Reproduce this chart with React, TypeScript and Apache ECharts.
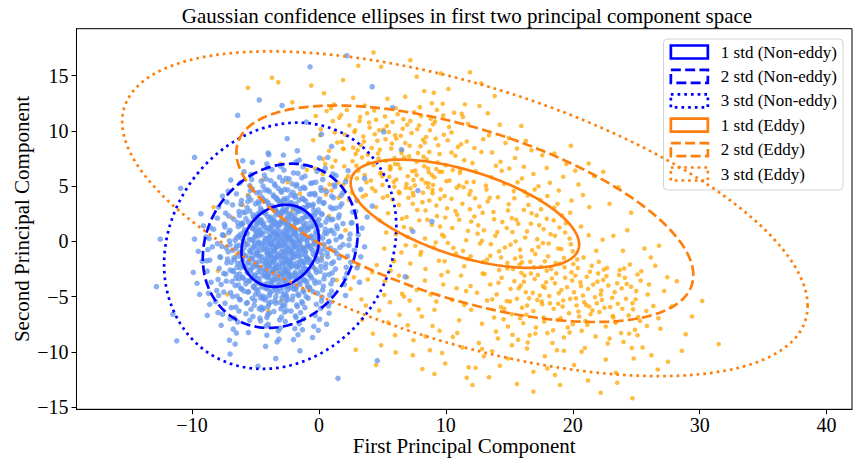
import React, { useEffect, useRef } from "react";
import * as echarts from "echarts";

// ---- data -------------------------------------------------------------

// Non-eddy samples projected on PC1 / PC2
const nonEddyPoints: [number, number][] = [
  [-3.2,-0.4],[-1.1,-0.9],[-5.6,-0.3],[0.4,-0.7],[-2.5,-1.1],[-7.3,-0.6],[-3.9,-0.2],[-0.2,-1.0],[-4.6,-0.8],[-2.0,-0.5],[1.9,-0.3],[-6.2,-1.0],[-3.5,-0.9],[-1.6,-0.2],[-8.4,-0.5],[-2.9,-0.7],[-4.1,-1.1],[0.9,-0.6],[-5.1,-0.4],[-2.2,-0.9],[-3.7,-0.3],[-0.7,-0.4],[-6.8,-0.8],[-1.3,-0.6],[-4.4,-0.2],[2.8,-0.8],[-3.0,-1.0],[-5.3,-0.7],[-0.4,-0.3],[-2.7,-0.2],[-9.5,-0.9],[-3.4,-0.6],[-1.9,-1.1],[-4.8,-0.5],[0.1,-0.9],[-2.4,-0.4],[-7.0,-0.3],[-3.8,-0.8],[-1.0,-0.5],[-5.9,-0.6],[3.6,-0.5],[-2.6,-1.0],[-4.2,-0.7],[-0.9,-0.2],[-3.3,-0.3],[-6.5,-0.4],[-1.5,-0.8],[1.4,-1.1],[-4.9,-0.9],[-2.1,-0.7],[-3.6,-0.5],[-8.0,-0.2],[-0.5,-0.8],[-5.4,-1.0],[-2.8,-0.3],[-1.7,-0.6],
  [-2.8,0.2],[-0.6,0.5],[-5.2,0.1],[1.2,0.7],[-3.9,0.4],[-7.6,0.6],[-2.1,0.0],[-4.5,0.8],[0.3,0.3],[-3.3,0.6],[-1.4,0.1],[-6.1,0.3],[-2.5,0.8],[2.4,0.2],[-4.0,-0.1],[-1.8,0.4],[-5.7,0.7],[-3.0,0.1],[-0.2,0.6],[-8.9,0.4],[-3.6,0.2],[-1.1,0.8],[-4.7,0.5],[-2.3,0.3],[0.8,0.0],[-6.6,0.1],[-3.4,0.7],[-1.6,0.2],[-5.0,0.4],[3.1,0.6],[-2.7,0.5],[-4.3,0.0],[-0.9,0.3],[-7.1,0.8],[-3.8,0.6],[-2.0,0.7],[-5.5,0.2],[-0.4,0.1],[-3.1,0.4],[1.7,0.4],[-4.9,0.6],[-2.4,0.1],[-6.3,0.5],[-1.3,0.5],[-3.5,0.8],[-9.8,0.2],[-2.6,0.6],[-0.1,0.2],[-4.1,0.3],[-1.9,-0.1],[-5.9,0.8],[0.6,0.7],[-3.2,0.0],[-2.2,0.5],
  [-3.4,-1.5],[-1.2,-1.9],[-5.8,-1.3],[0.2,-1.7],[-2.6,-2.1],[-7.2,-1.6],[-4.0,-1.2],[-0.6,-2.0],[-4.7,-1.8],[-2.1,-1.4],[1.6,-1.5],[-6.4,-2.0],[-3.6,-1.9],[-1.7,-1.3],[-8.6,-1.7],[-3.0,-1.6],[-4.3,-2.1],[0.7,-1.4],[-5.3,-1.6],[-2.3,-1.8],[-3.8,-1.3],[-0.9,-1.6],[-6.9,-1.9],[-1.4,-1.2],[-4.5,-1.4],[2.5,-1.9],[-3.1,-2.0],[-5.5,-1.5],[-0.3,-1.3],[-2.8,-1.2],[-9.2,-1.8],[-3.5,-1.7],[-2.0,-2.1],[-4.9,-1.3],[-0.1,-1.8],[-2.5,-1.5],[-7.8,-1.4],[-3.9,-1.8],[-1.0,-1.5],[-6.0,-1.7],[3.3,-1.4],[-2.7,-1.9],[-4.2,-1.6],[-1.1,-1.2],[-3.3,-1.3],[-6.7,-1.5],[-1.5,-1.8],[1.0,-2.0],[-5.0,-1.9],[-2.2,-1.7],[-3.7,-1.5],[-0.8,-1.9],[-5.6,-2.0],[-2.9,-1.4],
  [-2.6,1.2],[-0.3,1.6],[-5.0,1.0],[1.4,1.4],[-3.7,1.8],[-7.4,1.3],[-1.9,0.9],[-4.4,1.5],[0.5,1.1],[-3.1,1.7],[-1.2,1.3],[-6.0,1.6],[-2.3,1.0],[2.6,1.7],[-3.9,1.2],[-1.6,1.8],[-5.4,1.4],[-2.8,0.9],[0.0,1.5],[-8.3,1.1],[-3.4,1.6],[-0.8,1.2],[-4.6,1.8],[-2.0,1.4],[1.0,1.0],[-6.4,1.7],[-3.2,1.3],[-1.4,1.1],[-4.9,1.6],[3.4,1.2],[-2.5,1.5],[-4.1,0.9],[-0.6,1.8],[-7.0,1.0],[-3.6,1.4],[-1.8,1.7],[-5.2,1.2],[-0.1,1.0],[-2.9,1.8],[1.9,1.6],[-4.7,1.1],[-2.2,1.3],[-6.1,1.5],[-1.0,1.6],[-3.3,1.0],[-9.1,1.4],[-2.4,1.7],[-4.3,1.3],
  [-3.5,-2.5],[-1.4,-2.9],[-5.9,-2.3],[0.1,-2.7],[-2.7,-3.1],[-7.0,-2.6],[-4.1,-2.2],[-0.8,-3.0],[-4.8,-2.8],[-2.3,-2.4],[1.3,-2.5],[-6.5,-3.0],[-3.7,-2.9],[-1.8,-2.3],[-8.8,-2.7],[-3.1,-2.6],[-4.4,-3.1],[0.5,-2.4],[-5.4,-2.6],[-2.4,-2.8],[-3.9,-2.3],[-1.0,-2.6],[-7.5,-2.9],[-1.6,-2.2],[-4.6,-2.4],[2.2,-2.9],[-3.2,-3.0],[-5.7,-2.5],[-0.5,-2.3],[-2.9,-2.2],[-9.9,-2.8],[-3.6,-2.7],[-2.1,-3.1],[-5.1,-2.3],[-0.2,-2.8],[-2.6,-2.5],[-6.2,-2.4],[-4.0,-2.8],[-1.2,-2.5],[-6.8,-2.7],[3.0,-2.4],[-2.8,-2.9],[-4.3,-2.6],[-1.3,-2.2],[-3.4,-2.3],[-5.3,-3.0],[-1.9,-2.8],[0.8,-3.0],
  [-2.5,2.2],[-0.2,2.6],[-4.8,2.0],[1.6,2.4],[-3.5,2.8],[-7.1,2.3],[-1.7,1.9],[-4.2,2.5],[0.7,2.1],[-2.9,2.7],[-1.0,2.3],[-5.8,2.6],[-2.1,2.0],[2.9,2.7],[-3.8,2.2],[-1.4,2.8],[-5.2,2.4],[-2.7,1.9],[0.2,2.5],[-8.0,2.1],[-3.2,2.6],[-0.6,2.2],[-4.5,2.8],[-1.9,2.4],[1.1,2.0],[-6.3,2.7],[-3.0,2.3],[-1.2,2.1],[-4.7,2.6],[3.8,2.2],[-2.3,2.5],[-3.9,1.9],[-0.4,2.8],[-6.7,2.0],[-3.4,2.4],[-1.6,2.7],[-5.0,2.2],[0.0,2.0],[-2.6,2.8],[-9.3,2.5],
  [-3.6,-3.5],[-1.5,-3.9],[-6.0,-3.3],[0.0,-3.7],[-2.8,-4.1],[-7.3,-3.6],[-4.2,-3.2],[-0.9,-4.0],[-4.9,-3.8],[-2.4,-3.4],[1.1,-3.5],[-6.6,-4.0],[-3.8,-3.9],[-1.9,-3.3],[-8.5,-3.7],[-3.2,-3.6],[-4.5,-4.1],[0.4,-3.4],[-5.5,-3.6],[-2.5,-3.8],[-4.0,-3.3],[-1.1,-3.6],[-7.7,-3.9],[-1.7,-3.2],[-4.7,-3.4],[2.0,-3.9],[-3.3,-4.0],[-5.8,-3.5],[-0.6,-3.3],[-3.0,-3.2],[-9.6,-3.8],[-3.7,-3.7],[-2.2,-4.1],[-5.2,-3.3],[-0.3,-3.8],[-2.7,-3.5],[-6.3,-3.4],[-4.1,-3.8],[-1.3,-3.5],[3.2,-3.7],
  [-2.4,3.2],[0.0,3.6],[-4.6,3.0],[1.8,3.4],[-3.3,3.8],[-6.8,3.3],[-1.5,2.9],[-4.0,3.5],[0.9,3.1],[-2.8,3.7],[-0.8,3.3],[-5.6,3.6],[-2.0,3.0],[3.0,3.7],[-3.7,3.2],[-1.2,3.8],[-5.0,3.4],[-2.6,2.9],[0.4,3.5],[-7.9,3.1],[-3.1,3.6],[-0.5,3.2],[-4.4,3.8],[-1.8,3.4],[1.3,3.0],[-6.1,3.7],[-2.9,3.3],[-1.0,3.1],[-4.8,3.6],[4.2,3.2],[-2.2,3.5],
  [-3.7,-4.5],[-1.6,-4.9],[-6.1,-4.3],[-0.1,-4.7],[-2.9,-5.1],[-7.5,-4.6],[-4.3,-4.2],[-1.0,-5.0],[-5.0,-4.8],[-2.5,-4.4],[1.0,-4.5],[-6.8,-5.0],[-3.9,-4.9],[-2.0,-4.3],[-8.7,-4.7],[-3.3,-4.6],[-4.6,-5.1],[0.3,-4.4],[-5.6,-4.6],[-2.6,-4.8],[-4.1,-4.3],[-1.2,-4.6],[-7.9,-4.9],[-1.8,-4.2],[-4.8,-4.4],[2.1,-4.9],[-3.4,-5.0],[-5.9,-4.5],[-0.7,-4.3],[-3.1,-4.2],[-9.4,-4.8],
  [-2.2,4.2],[0.2,4.6],[-4.5,4.0],[1.9,4.4],[-3.2,4.8],[-6.5,4.3],[-1.3,3.9],[-3.9,4.5],[1.0,4.1],[-2.7,4.7],[-0.6,4.3],[-5.4,4.6],[-1.9,4.0],[3.3,4.7],[-3.6,4.2],[-1.1,4.8],[-4.9,4.4],[-2.5,3.9],[0.6,4.5],[-7.6,4.1],[-3.0,4.6],[-0.3,4.2],
  [-3.8,-5.5],[-1.7,-5.9],[-6.2,-5.3],[-0.2,-5.7],[-3.0,-6.1],[-7.4,-5.6],[-4.4,-5.2],[-1.1,-6.0],[-5.1,-5.8],[-2.6,-5.4],[0.9,-5.5],[-6.9,-6.0],[-4.0,-5.9],[-2.1,-5.3],[-8.6,-5.7],[-3.4,-5.6],[-4.7,-6.1],[0.2,-5.4],[-5.7,-5.6],[-2.7,-5.8],[-4.2,-5.3],[-1.3,-5.6],
  [-2.1,5.2],[0.3,5.6],[-4.4,5.0],[2.1,5.4],[-3.1,5.8],[-6.2,5.3],[-1.2,4.9],[-3.8,5.5],[1.2,5.1],[-2.6,5.7],[-0.5,5.3],[-5.3,5.6],[-1.8,5.0],[3.6,5.7],[-3.5,5.2],
  [-3.9,-6.5],[-1.8,-6.9],[-6.3,-6.3],[-0.3,-6.7],[-3.1,-7.1],[-7.6,-6.6],[-4.5,-6.2],[-1.2,-7.0],[-5.2,-6.8],[-2.7,-6.4],[0.8,-6.5],[-7.0,-7.0],[-4.1,-6.9],[-2.2,-6.3],[-8.8,-6.7],
  [-2.0,6.2],[0.5,6.6],[-4.3,6.0],[2.3,6.4],[-3.0,6.8],[-5.9,6.3],[-1.1,5.9],[-3.7,6.5],[1.1,6.1],
  [-4.0,-7.5],[-1.9,-7.9],[-6.4,-7.3],[-0.4,-7.7],[-3.2,-8.1],[-7.7,-7.6],[-4.6,-7.2],[-1.3,-8.0],[0.6,-7.5],
  [-1.8,7.2],[0.7,7.6],[-4.1,7.0],[-2.8,7.8],[-6.0,7.3],
  [-4.1,-8.5],[-2.0,-8.9],[-6.5,-8.3],[-0.5,-8.7],[-3.3,-9.1],
  [-1.7,8.2],[1.0,8.6],[-4.0,8.0],[-4.2,-9.5],[-1.5,-9.9],[-6.6,-9.3],
  [-2.5,9.3],[0.2,9.7],[-3.4,-10.6],[-7.0,-10.2],[-1.0,10.8],[-4.8,-11.3],
  [-12.5,0.2],[-11.2,-9.0],[-12.8,-4.1],[2.2,16.8],[-0.7,15.8],[-4.7,12.8],[-2.9,12.3],[-6.4,11.4],[4.2,14.0],[5.8,12.1],[6.5,8.3],[7.8,4.6],[5.1,9.9],[8.9,1.8],[4.6,-10.8],[1.5,-12.4],[-9.8,7.6],[-10.9,4.8],[-11.5,-6.6],[6.8,-3.2],[7.4,0.9],
  [-2.35,-0.85],[-4.75,-0.15],[-0.85,-0.45],[-6.05,-0.95],[-3.45,-0.65],[-1.95,-0.25],[0.65,-1.05],[-5.15,-0.55],[-2.95,-0.35],[-4.05,-0.95],[-1.25,-0.75],[-7.65,-0.45],[-3.85,-1.05],[-0.35,-0.15],[-5.75,-0.25],[-2.55,-0.55],[1.25,-0.85],[-4.55,-0.35],[-1.65,-0.95],[-3.15,-0.15],[-6.55,-0.65],[-2.15,-1.0],[-0.05,-0.55],[-4.35,-0.75],[-3.65,-0.25],[-1.45,-0.35],[-5.45,-0.85],[2.35,-0.35],[-2.75,-0.95],[-8.75,-0.75],[-3.25,-0.45],[-0.65,-0.65],[-4.85,-1.05],[-2.05,-0.15],[-6.25,-0.35],[-1.05,-0.95],[-3.95,-0.55],[0.35,-0.25],[-5.05,-0.15],[-2.45,-0.65],[-7.15,-0.95],[-1.85,-0.45],[-3.55,-0.85],[1.65,-0.55],[-4.25,-0.45],
  [-2.25,0.15],[-4.65,0.65],[-0.75,0.35],[-5.95,0.05],[-3.35,0.45],[-1.85,0.75],[0.75,-0.05],[-5.05,0.45],[-2.85,0.65],[-3.95,0.05],[-1.15,0.25],[-7.55,0.55],[-3.75,-0.05],[-0.25,0.85],[-5.65,0.75],[-2.45,0.45],[1.35,0.15],[-4.45,0.65],[-1.55,0.05],[-3.05,0.85],[-6.45,0.35],[-2.05,0.0],[0.05,0.45],[-4.25,0.25],[-3.55,0.75],[-1.35,0.65],[-5.35,0.15],[2.45,0.65],[-2.65,0.05],[-8.65,0.25],[-3.15,0.55],[-0.55,0.35],[-4.75,-0.05],[-1.95,0.85],[-6.15,0.65],[-0.95,0.05],[-3.85,0.45],[0.45,0.75],[-4.95,0.85],[-2.35,0.35],[-7.05,0.05],[-1.75,0.55],[-3.45,0.15],[1.75,0.45],
  [-2.45,-1.85],[-4.85,-1.15],[-0.95,-1.45],[-6.15,-1.95],[-3.55,-1.65],[-2.05,-1.25],[0.55,-2.05],[-5.25,-1.55],[-3.05,-1.35],[-4.15,-1.95],[-1.35,-1.75],[-7.75,-1.45],[-3.95,-2.05],[-0.45,-1.15],[-5.85,-1.25],[-2.65,-1.55],[1.15,-1.85],[-4.65,-1.35],[-1.75,-1.95],[-3.25,-1.15],[-6.65,-1.65],[-2.25,-2.0],[-0.15,-1.55],[-4.45,-1.75],[-3.75,-1.25],[-1.55,-1.35],[-5.55,-1.85],[2.25,-1.35],[-2.85,-1.95],[-8.85,-1.75],[-3.35,-1.45],[-0.75,-1.65],[-4.95,-2.05],[-2.15,-1.15],[-6.35,-1.35],[-1.15,-1.95],[-4.05,-1.55],[0.25,-1.25],[-5.15,-1.15],[-2.55,-1.65],[-7.25,-1.95],[-1.95,-1.45],[-3.65,-1.85],
  [-2.15,1.15],[-4.55,1.65],[-0.65,1.35],[-5.85,1.05],[-3.25,1.45],[-1.75,1.75],[0.85,0.95],[-4.95,1.45],[-2.75,1.65],[-3.85,1.05],[-1.05,1.25],[-7.45,1.55],[-3.65,0.95],[-0.15,1.85],[-5.55,1.75],[-2.35,1.45],[1.45,1.15],[-4.35,1.65],[-1.45,1.05],[-2.95,1.85],[-6.35,1.35],[-1.95,1.0],[0.15,1.45],[-4.15,1.25],[-3.45,1.75],[-1.25,1.65],[-5.25,1.15],[2.55,1.65],[-2.55,1.05],[-8.55,1.25],[-3.05,1.55],[-0.45,1.35],[-4.65,0.95],[-1.85,1.85],[-6.05,1.65],[-0.85,1.05],[-3.75,1.45],[0.55,1.75],[-4.85,1.85],[-2.25,1.35],
  [-2.55,-2.85],[-4.95,-2.15],[-1.05,-2.45],[-6.25,-2.95],[-3.65,-2.65],[-2.15,-2.25],[0.45,-3.05],[-5.35,-2.55],[-3.15,-2.35],[-4.25,-2.95],[-1.45,-2.75],[-7.85,-2.45],[-4.05,-3.05],[-0.55,-2.15],[-5.95,-2.25],[-2.75,-2.55],[1.05,-2.85],[-4.75,-2.35],[-1.85,-2.95],[-3.35,-2.15],[-6.75,-2.65],[-2.35,-3.0],[-0.25,-2.55],[-4.55,-2.75],[-3.85,-2.25],[-1.65,-2.35],[-5.65,-2.85],[2.15,-2.35],[-2.95,-2.95],[-3.45,-2.45],[-0.85,-2.65],[-5.05,-3.05],[-2.25,-2.15],[-6.45,-2.35],[-1.25,-2.95],[-4.15,-2.55],[0.15,-2.25],[-5.25,-2.15],[-2.65,-2.65],[-7.35,-2.95],
  [-2.05,2.15],[-4.45,2.65],[-0.55,2.35],[-5.75,2.05],[-3.15,2.45],[-1.65,2.75],[0.95,1.95],[-4.85,2.45],[-2.65,2.65],[-3.75,2.05],[-0.95,2.25],[-7.35,2.55],[-3.55,1.95],[-0.05,2.85],[-5.45,2.75],[-2.25,2.45],[1.55,2.15],[-4.25,2.65],[-1.35,2.05],[-2.85,2.85],[-6.25,2.35],[-1.85,2.0],[0.25,2.45],[-4.05,2.25],[-3.35,2.75],[-1.15,2.65],[-5.15,2.15],[2.65,2.65],[-2.45,2.05],[-2.95,2.55],[-0.35,2.35],[-4.55,1.95],[-1.75,2.85],[-5.95,2.65],
  [-2.65,-3.85],[-5.05,-3.15],[-1.15,-3.45],[-6.35,-3.95],[-3.75,-3.65],[-2.25,-3.25],[0.35,-4.05],[-5.45,-3.55],[-3.25,-3.35],[-4.35,-3.95],[-1.55,-3.75],[-7.95,-3.45],[-4.15,-4.05],[-0.65,-3.15],[-6.05,-3.25],[-2.85,-3.55],[0.95,-3.85],[-4.85,-3.35],[-1.95,-3.95],[-3.45,-3.15],[-6.85,-3.65],[-2.45,-4.0],[-0.35,-3.55],[-4.65,-3.75],[-3.95,-3.25],[-1.75,-3.35],[-5.75,-3.85],[2.05,-3.35],[-3.05,-3.95],[-3.55,-3.45],[-0.95,-3.65],[-5.15,-4.05],[-2.35,-3.15],[-6.55,-3.35],
  [-1.95,3.15],[-4.35,3.65],[-0.45,3.35],[-5.65,3.05],[-3.05,3.45],[-1.55,3.75],[1.05,2.95],[-4.75,3.45],[-2.55,3.65],[-3.65,3.05],[-0.85,3.25],[-7.25,3.55],[-3.45,2.95],[0.05,3.85],[-5.35,3.75],[-2.15,3.45],[1.65,3.15],[-4.15,3.65],[-1.25,3.05],[-2.75,3.85],[-6.15,3.35],[-1.75,3.0],[0.35,3.45],[-3.95,3.25],[-3.25,3.75],[-1.05,3.65],
  [-2.75,-4.85],[-5.15,-4.15],[-1.25,-4.45],[-6.45,-4.95],[-3.85,-4.65],[-2.35,-4.25],[0.25,-5.05],[-5.55,-4.55],[-3.35,-4.35],[-4.45,-4.95],[-1.65,-4.75],[-8.05,-4.45],[-4.25,-5.05],[-0.75,-4.15],[-6.15,-4.25],[-2.95,-4.55],[0.85,-4.85],[-4.95,-4.35],[-2.05,-4.95],[-3.55,-4.15],[-6.95,-4.65],[-2.55,-5.0],[-0.45,-4.55],[-4.75,-4.75],[-4.05,-4.25],[-1.85,-4.35],
  [-1.85,4.15],[-4.25,4.65],[-0.35,4.35],[-5.55,4.05],[-2.95,4.45],[-1.45,4.75],[1.15,3.95],[-4.65,4.45],[-2.45,4.65],[-3.55,4.05],[-0.75,4.25],[-7.15,4.55],[-3.35,3.95],[0.15,4.85],[-5.25,4.75],[-2.05,4.45],[1.75,4.15],[-4.05,4.65],
  [-2.85,-5.85],[-5.25,-5.15],[-1.35,-5.45],[-6.55,-5.95],[-3.95,-5.65],[-2.45,-5.25],[0.15,-6.05],[-5.65,-5.55],[-3.45,-5.35],[-4.55,-5.95],[-1.75,-5.75],[-8.15,-5.45],[-4.35,-6.05],[-0.85,-5.15],[-6.25,-5.25],[-3.05,-5.55],[0.75,-5.85],[-5.05,-5.35],
  [-1.75,5.15],[-4.15,5.65],[-0.25,5.35],[-5.45,5.05],[-2.85,5.45],[-1.35,5.75],[1.25,4.95],[-4.55,5.45],[-2.35,5.65],[-3.45,5.05],[-0.65,5.25],[-6.95,5.55],
  [-2.95,-6.85],[-5.35,-6.15],[-1.45,-6.45],[-6.65,-6.95],[-4.05,-6.65],[-2.55,-6.25],[0.05,-7.05],[-5.75,-6.55],[-3.55,-6.35],[-4.65,-6.95],[-1.85,-6.75],[-7.95,-6.45],
  [-1.65,6.15],[-4.05,6.65],[-0.15,6.35],[-5.35,6.05],[-2.75,6.45],[-1.25,6.75],[1.35,5.95],
  [-3.05,-7.85],[-5.45,-7.15],[-1.55,-7.45],[-6.75,-7.95],[-4.15,-7.65],[-2.65,-7.25],[-0.05,-8.05],
  [-1.55,7.35],[-3.95,7.85],[0.05,7.55],[-5.25,7.15],[-3.15,-8.85],[-5.55,-8.25],[-1.65,-8.45],[-7.05,-8.95],
];

// Eddy samples projected on PC1 / PC2
const eddyPoints: [number, number][] = [
  [0.8,8.2],[2.4,10.5],[3.1,6.4],[4.6,9.1],[5.2,11.3],[6.0,7.0],[7.3,9.8],[8.1,5.6],[9.4,8.7],[1.5,5.3],[2.9,7.9],[3.8,11.6],[4.2,4.8],[5.7,8.4],[6.6,10.2],[7.0,5.9],[8.5,7.4],[9.0,10.6],[1.1,10.9],[2.0,6.8],[3.5,9.5],[4.9,6.2],[5.5,9.9],[6.3,4.5],[7.8,8.0],[8.8,11.1],[9.7,6.3],[0.3,6.1],[1.8,9.0],[2.6,4.4],[3.3,8.7],[4.0,10.3],[4.7,7.5],[5.9,5.4],[6.8,8.9],[7.5,11.7],[8.3,6.8],[9.2,9.3],[0.6,11.8],[1.3,7.3],[2.2,11.9],[3.0,5.7],[3.9,7.1],[4.4,9.7],[5.0,5.1],[5.8,10.8],[6.4,6.6],[7.1,7.7],[7.9,10.5],[8.6,4.9],[9.5,7.9],[1.0,4.6],[2.7,8.5],[3.6,6.0],[4.5,11.0],[5.3,7.3],[6.1,9.3],[6.9,5.2],[7.6,6.4],[8.2,9.2],[9.8,11.4],[0.1,9.6],[1.6,11.2],[2.3,5.9],[3.2,10.9],[4.1,5.5],[4.8,8.3],[5.6,6.5],[6.2,11.5],[6.7,7.6],[7.4,4.4],[8.0,8.6],[8.9,6.0],[9.6,4.7],[1.9,8.4],[2.8,9.9],[3.7,4.2],[5.1,10.1],[6.5,8.0],[7.2,10.9],[8.4,5.3],[9.1,5.8],[0.5,7.0],[4.3,6.9],[5.4,4.1],[6.0,9.6],[7.7,7.2],[8.7,8.1],[9.3,11.9],[3.4,7.6],
  [-2.1,12.6],[0.4,13.4],[1.9,14.6],[3.6,12.3],[4.9,15.8],[4.3,17.1],[6.8,13.1],[7.7,14.9],[8.9,12.5],[10.2,13.8],[11.5,12.4],[12.8,14.3],[2.7,13.0],[5.4,12.9],[7.2,16.4],[9.6,15.2],[3.1,15.9],[-0.6,14.1],[8.3,13.6],[11.9,15.3],[13.3,11.6],[-3.7,14.8],[-5.6,13.9],[-3.2,14.4],[1.2,12.4],
  [4.5,3.1],[5.3,0.8],[6.1,5.6],[6.9,2.2],[7.6,-0.4],[8.2,4.4],[8.9,1.5],[9.5,6.3],[10.1,3.0],[10.8,-1.1],[11.4,4.9],[12.0,1.8],[12.7,-0.2],[13.3,3.6],[13.9,0.5],[14.6,5.2],[15.2,2.1],[15.9,-1.4],[16.5,3.3],[17.2,0.2],[17.8,-1.8],[18.5,1.9],[19.1,-0.7],[19.8,2.6],[5.0,5.9],[5.8,3.8],[6.5,-1.0],[7.2,4.8],[7.9,1.9],[8.6,6.6],[9.2,-0.1],[9.9,4.1],[10.5,1.2],[11.1,6.2],[11.7,-1.6],[12.3,3.9],[13.0,1.0],[13.6,5.8],[14.2,-0.9],[14.9,2.8],[15.5,0.0],[16.2,4.5],[16.8,-0.8],[17.5,2.9],[18.1,-0.2],[18.8,3.4],[19.4,0.8],[4.8,1.9],[5.6,6.8],[6.3,3.3],[7.0,0.4],[7.7,6.0],[8.4,2.8],[9.0,5.1],[9.7,0.6],[10.3,5.5],[10.9,2.4],[11.6,0.1],[12.2,5.4],[12.9,2.6],[13.5,-1.3],[14.1,4.0],[14.8,1.2],[15.4,3.9],[16.0,-1.9],[16.7,1.6],[17.3,-0.5],[18.0,4.1],[18.6,0.5],[19.3,-1.5],[6.7,1.3],[7.4,3.4],[8.0,-1.2],[8.7,3.7],[9.3,2.3],[10.0,6.9],[10.6,-0.6],[11.3,3.4],[11.9,2.9],[12.5,0.7],[13.2,4.7],[13.8,2.0],[14.4,6.4],[15.1,-0.3],[15.7,1.6],[16.4,0.9],[17.0,4.7],[17.7,1.1],[20.0,-0.9],[5.9,-1.8],
  [14.3,7.2],[15.6,8.4],[16.9,6.1],[18.2,5.3],[19.5,7.0],[20.8,4.2],[21.7,5.9],[22.9,3.4],[15.0,6.6],[16.3,9.1],[17.6,7.8],[18.9,4.6],[20.2,6.4],[21.3,3.1],[23.6,4.9],[14.7,8.9],[16.0,5.7],[17.3,5.0],[19.9,3.7],[22.4,6.3],[12.8,8.1],[13.4,9.6],[11.2,8.8],[12.1,7.1],[24.6,2.6],
  [14.2,-2.6],[15.1,-4.3],[15.8,-2.1],[16.4,-5.8],[17.0,-3.4],[17.7,-6.9],[18.3,-2.5],[18.9,-4.7],[19.6,-7.8],[20.2,-3.1],[20.9,-5.5],[21.5,-2.2],[22.1,-6.4],[22.8,-4.0],[23.4,-7.3],[24.1,-3.3],[24.7,-5.6],[25.4,-2.7],[14.6,-6.1],[15.4,-3.6],[16.1,-7.4],[16.7,-2.9],[17.4,-4.9],[18.0,-8.3],[18.6,-3.8],[19.2,-5.9],[19.9,-2.8],[20.5,-6.8],[21.2,-4.3],[21.8,-8.6],[22.4,-3.5],[23.1,-5.1],[23.7,-2.6],[24.4,-6.7],[25.0,-4.5],[14.0,-4.8],[14.9,-7.7],[15.6,-5.2],[16.2,-3.1],[16.9,-6.3],[17.5,-2.3],[18.2,-5.6],[18.8,-7.1],[19.4,-3.3],[20.1,-4.6],[20.7,-8.1],[21.3,-5.9],[22.0,-2.9],[22.6,-7.7],[23.3,-4.6],[23.9,-6.1],[24.5,-2.1],[25.3,-7.2],[14.4,-3.3],[15.2,-6.6],[15.9,-4.0],[16.6,-8.5],[17.2,-5.3],[17.9,-3.7],[18.5,-6.1],[19.0,-2.0],[19.7,-6.5],[20.4,-2.4],[21.0,-7.2],[21.6,-3.9],[22.3,-5.3],[22.9,-8.8],[23.5,-3.8],[24.2,-5.2],[24.9,-8.0],[14.8,-5.4],[15.7,-8.9],[16.3,-4.6],[17.1,-7.8],[17.8,-4.2],[18.4,-9.2],[19.1,-4.4],[19.8,-5.2],[20.6,-3.7],[21.4,-6.6],[22.2,-4.8],[22.7,-2.4],[23.2,-6.9],[23.8,-8.3],[24.6,-4.1],[26.0,-3.9],[16.0,-6.0],[17.6,-5.7],[19.3,-8.7],[20.0,-7.5],[20.8,-4.9],[21.9,-5.6],[18.7,-2.9],[20.3,-5.8],[21.1,-3.2],[15.3,-2.5],[22.5,-6.0],[13.8,-6.9],[13.5,-3.9],[24.0,-9.1],
  [8.4,-8.6],[9.7,-10.1],[10.9,-8.3],[11.8,-11.4],[12.6,-9.2],[13.4,-12.3],[14.1,-8.8],[14.9,-10.6],[15.6,-12.9],[16.4,-9.7],[16.9,-11.8],[16.9,-13.6],[17.8,-10.4],[18.6,-12.1],[19.3,-9.9],[20.1,-11.2],[21.2,-12.6],[22.2,-13.7],[22.6,-10.7],[23.4,-11.9],[23.5,-12.8],[24.7,-14.2],[11.3,-9.6],[13.0,-10.4],[15.2,-9.4],[18.0,-11.5],[20.7,-10.0],[9.1,-12.0],[12.1,-13.0],[19.0,-13.0],
  [26.5,-2.2],[27.2,-4.5],[28.9,-8.4],[31.5,-9.3],[25.8,-6.3],[26.9,-7.9],[27.8,-5.9],[25.5,-9.6],[28.2,-3.6],[26.2,-10.3],[29.4,-6.8],[25.1,-8.5],[27.5,-10.9],[24.8,-10.6],[30.2,-5.4],[25.9,-4.8],[23.2,0.5],[24.3,1.0],[26.8,-0.4],[28.6,-9.9],[25.1,-3.0],[26.7,-11.6],
  [2.5,-4.3],[3.4,-7.1],[4.2,-2.8],[4.9,-9.4],[5.6,-5.5],[6.3,-3.1],[7.0,-7.6],[7.7,-4.4],[8.4,-2.5],[9.1,-6.2],[9.8,-3.9],[2.9,-9.8],[3.7,-5.8],[4.5,-11.2],[5.2,-3.6],[6.0,-8.5],[6.7,-5.0],[7.4,-10.3],[8.1,-6.8],[8.8,-4.8],[9.5,-8.1],[3.1,-2.2],[5.9,-1.7],[7.2,-2.0],[9.9,-1.8],[10.5,-5.3],[11.2,-3.1],[12.0,-6.2],[11.6,-4.5],[12.9,-2.9],
  [-8.3,3.1],[-6.5,-1.2],[-4.4,5.6],[-2.6,0.4],[-0.9,-4.2],[0.8,2.3],[-7.2,-4.8],[-5.1,1.9],[-3.3,-2.7],[-1.5,4.3],[0.2,-1.5],[1.9,5.1],[-7.4,0.5],[-6.0,3.3],[-4.0,-6.3],[-2.1,2.8],[-0.3,6.6],[1.4,-3.5],[-5.6,4.2],[-3.0,7.0],[-1.2,-0.6],[0.5,4.7],[2.1,1.0],[-4.7,-2.3],
  [0.35,7.45],[1.25,9.85],[2.15,5.65],[3.05,8.25],[3.95,10.75],[4.85,6.15],[5.75,8.85],[6.65,11.05],[7.55,5.05],[8.45,9.45],[9.35,7.15],[10.25,10.35],[11.15,6.45],[0.85,5.15],[1.75,11.45],[2.65,7.25],[3.55,9.05],[4.45,4.55],[5.35,10.45],[6.25,6.95],[7.15,8.65],[8.05,11.35],[8.95,4.65],[9.85,9.65],[10.75,7.75],[11.65,9.05],[0.15,10.15],[1.05,6.75],[1.95,8.35],[2.85,10.05],[3.75,5.35],[4.65,7.95],[5.55,5.85],[6.45,9.55],[7.35,6.35],[8.25,7.65],[9.15,10.85],[10.05,5.45],[10.95,8.55],[11.85,4.25],[0.55,4.25],[1.45,8.95],[2.35,3.75],[3.25,11.25],[4.15,8.45],[5.05,3.95],[5.95,7.55],[6.85,4.85],[7.75,10.15],[8.65,6.25],[9.55,3.85],[10.45,8.05],[11.35,11.25],[-0.45,9.15],[-0.95,6.45],[-0.25,11.35],[0.95,12.05],[2.05,9.65],[2.95,6.85],[3.85,7.85],[4.75,10.05],[5.65,6.65],[6.55,8.25],[7.45,4.15],[8.35,8.95],[9.25,6.55],[10.15,9.15],[11.05,5.05],[4.35,11.85],[6.05,12.05],[7.95,12.15],[9.75,12.45],[1.55,3.95],[3.45,4.05],[5.25,9.25],[6.95,10.55],[8.75,10.05],[10.65,11.65],[11.45,7.35],[12.25,8.45],
  [5.45,2.55],[6.35,4.35],[7.25,1.15],[8.15,3.55],[9.05,-0.55],[9.95,2.15],[10.85,4.85],[11.75,0.95],[12.65,3.15],[13.55,-0.25],[14.45,1.75],[15.35,4.55],[16.25,0.35],[17.15,2.35],[18.05,-1.35],[18.95,1.25],[19.85,-0.25],[5.95,4.95],[6.85,-0.35],[7.75,2.85],[8.65,5.25],[9.55,1.35],[10.45,3.85],[11.35,-0.85],[12.25,2.25],[13.15,5.05],[14.05,0.85],[14.95,3.35],[15.85,-0.75],[16.75,2.55],[17.65,-0.15],[18.55,3.05],[19.45,1.65],[6.55,2.05],[7.45,5.55],[8.35,0.25],[9.25,3.25],[10.15,-0.15],[11.05,1.95],[11.95,4.55],[12.85,0.05],[13.75,2.65],[14.65,-0.55],[15.55,1.95],[16.45,4.15],[17.35,1.45],[18.25,0.65],[19.15,2.35],[20.35,-1.65],[5.15,-0.65],[6.05,0.65],[7.05,3.95],[8.05,-0.95],[8.95,4.35],[9.85,0.45],[10.75,2.75],[11.65,5.35],[12.55,1.45],[13.45,3.95],[14.35,-1.45],[15.25,0.85],[16.15,2.85],[17.05,-1.15],[17.95,2.05],[18.85,-0.65],[19.75,0.25],[20.65,1.35],[21.25,0.55],[21.85,-0.85],[12.35,6.35],[13.95,6.85],[10.55,6.45],[9.45,-1.75],[12.95,-1.85],[15.65,5.35],[17.45,3.75],[14.85,-1.95],[11.45,-2.25],[16.95,-2.35],[8.55,1.95],
  [13.25,-1.65],[14.15,-3.75],[15.05,-5.45],[15.95,-2.85],[16.85,-4.65],[17.75,-7.25],[18.65,-1.95],[19.55,-4.15],[20.45,-6.35],[21.35,-2.75],[22.25,-4.45],[23.15,-6.75],[24.05,-2.45],[24.95,-5.25],[25.85,-7.65],[13.65,-5.25],[14.55,-7.05],[15.45,-1.55],[16.35,-6.65],[17.25,-3.05],[18.15,-4.95],[19.05,-6.95],[19.95,-3.55],[20.85,-1.45],[21.75,-5.05],[22.65,-3.15],[23.55,-5.65],[24.45,-8.35],[25.35,-3.55],[13.95,-8.15],[14.85,-2.45],[15.75,-4.25],[16.65,-1.85],[17.55,-5.45],[18.45,-8.05],[19.35,-2.35],[20.25,-5.15],[21.15,-7.55],[22.05,-1.85],[22.95,-5.95],[23.85,-4.25],[24.75,-6.15],[26.35,-5.85],[14.35,-5.95],[15.25,-8.45],[16.15,-3.65],[17.05,-8.35],[17.95,-2.65],[18.85,-5.65],[19.75,-8.25],[20.65,-4.05],[21.55,-6.25],[22.45,-2.55],[23.35,-7.35],[24.25,-3.85],[25.15,-6.85],[16.55,-5.15],[18.35,-3.35],[20.05,-2.05],[21.95,-3.65],[23.65,-3.05],[19.25,-5.35],[17.65,-4.05],[21.05,-5.75],[15.85,-6.95],[22.75,-9.25],[20.95,-9.65],[18.75,-9.85],[16.45,-9.15],[24.65,-9.65],[12.45,-4.65],[12.85,-7.45],[26.75,-6.95],[27.45,-3.25],[11.95,-1.35],[13.05,-2.95],[26.15,-1.45],[25.65,-0.65],[22.35,0.15],[23.95,-0.85],
  [3.85,-3.45],[4.75,-6.25],[5.65,-2.65],[6.55,-4.75],[7.45,-8.95],[8.35,-3.55],[9.25,-5.45],[10.15,-2.75],[11.05,-7.15],[11.95,-4.05],[12.85,-9.75],[4.25,-8.35],[5.15,-4.85],[6.05,-10.05],[6.95,-3.25],[7.85,-6.15],[8.75,-9.85],[9.65,-3.05],[10.55,-8.65],[11.45,-5.75],[12.35,-11.45],[13.25,-5.35],[3.35,-5.25],[5.45,-7.35],[7.15,-5.35],[8.95,-7.65],[10.85,-4.25],[9.95,-11.05],[14.25,-11.25],[13.65,-9.95],[11.65,-12.35],[8.15,-11.55],[6.35,-6.65],[4.55,-2.15],[2.75,-3.25],
  [10.45,9.85],[11.75,10.65],[12.95,9.25],[14.25,10.55],[15.45,7.55],[16.75,8.25],[17.95,6.65],[19.25,5.85],[20.45,5.15],[13.65,8.05],[14.95,9.35],[16.15,6.75],[18.55,7.95],[11.25,11.55],[12.65,12.25],[15.95,10.45],[19.85,8.65],[21.25,7.05],[9.05,13.45],[13.85,13.15],
  [-6.85,2.15],[-4.65,-3.85],[-2.45,5.35],[-0.35,-2.45],[-5.75,-0.15],[-3.55,2.95],[-1.25,0.85],[-7.95,-2.65],[-2.95,-5.35],[0.45,-0.35],
];

// Fitted Gaussians: mean [PC1, PC2], covariance [var1, cov12, var2]
const nonEddyMean = [-3.05, -0.4];
const nonEddyCov = [9.3, 1.7, 13.8];
const eddyMean = [11.5, 2.5];
const eddyCov = [81, -25, 24];
const stdLevels = [1, 2, 3];

const xTicks = [-10, 0, 10, 20, 30, 40];
const yTicks = [-15, -10, -5, 0, 5, 10, 15];

// ---- styling ---------------------------------------------------------------

const FONT = "'Liberation Serif', 'Times New Roman', Times, serif";
const BLUE_LINE = "#0000ff";
const ORANGE_LINE = "#ff7f0e";
const BLUE_DOT = "#6495ed";
const ORANGE_DOT = "#ffa500";
const LINE_WIDTH = 2.7;
const DASHES: (string | number[])[] = ["solid", [10, 4.3], [2.7, 4.0]];

// Contour of the n-sigma ellipse via the Cholesky factor of the covariance
function ellipsePoints(mean: number[], cov: number[], n: number, steps = 240) {
  const [sxx, sxy, syy] = cov;
  const l11 = Math.sqrt(sxx);
  const l21 = sxy / l11;
  const l22 = Math.sqrt(syy - l21 * l21);
  const pts: [number, number][] = [];
  for (let i = 0; i <= steps; i++) {
    const t = (i / steps) * Math.PI * 2;
    const c = Math.cos(t);
    const s = Math.sin(t);
    pts.push([mean[0] + n * l11 * c, mean[1] + n * (l21 * c + l22 * s)]);
  }
  return pts;
}

const minus = (v: number) => String(v).replace("-", "\u2212");

export default function App() {
  const ref = useRef<HTMLDivElement>(null);

  useEffect(() => {
    if (!ref.current) return;
    const chart = echarts.init(ref.current, undefined, { renderer: "svg" });

    const groups = [
      { label: "Non-eddy", mean: nonEddyMean, cov: nonEddyCov, color: BLUE_LINE },
      { label: "Eddy", mean: eddyMean, cov: eddyCov, color: ORANGE_LINE },
    ];

    const ellipseSeries: any[] = [];
    const legendData: any[] = [];
    groups.forEach((g, gi) => {
      stdLevels.forEach((n, i) => {
        const name = `${n} std (${g.label})`;
        ellipseSeries.push({
          type: "line",
          name,
          data: ellipsePoints(g.mean, g.cov, n),
          showSymbol: false,
          symbol: "none",
          silent: true,
          z: 5 + gi,
          lineStyle: { color: g.color, width: LINE_WIDTH, type: DASHES[i], cap: "butt" },
          itemStyle: { color: g.color },
        });
        legendData.push({
          name,
          icon: "rect",
          itemStyle: {
            color: "rgba(0,0,0,0)",
            borderColor: g.color,
            borderWidth: LINE_WIDTH,
            borderType: DASHES[i],
          },
        });
      });
    });

    chart.setOption({
      animation: false,
      backgroundColor: "#ffffff",
      textStyle: { fontFamily: FONT },
      title: {
        text: "Gaussian confidence ellipses in first two principal component space",
        left: 462,
        textAlign: "center",
        top: 0,
        textStyle: { fontFamily: FONT, fontSize: 21, fontWeight: "normal", color: "#000" },
      },
      grid: {
        left: 76.5,
        right: 2,
        top: 28.7,
        bottom: 48.7,
        outerBoundsMode: "none",
        containLabel: false,
        show: true,
        borderColor: "#000",
        borderWidth: 1,
        backgroundColor: "transparent",
      },
      legend: {
        data: legendData,
        orient: "vertical",
        right: 11,
        top: 39,
        itemWidth: 37,
        itemHeight: 13,
        itemGap: 4.4,
        padding: [3, 6, 6, 6],
        backgroundColor: "rgba(255,255,255,0.85)",
        borderColor: "#d3d3d3",
        borderWidth: 1,
        borderRadius: 4,
        selectedMode: false,
        textStyle: {
          fontFamily: FONT,
          fontSize: 17,
          color: "#000",
          lineHeight: 20,
          padding: [0, 0, 0, 8],
        },
      },
      xAxis: {
        type: "value",
        min: -19.1,
        max: 42.0,
        name: "First Principal Component",
        nameLocation: "middle",
        nameGap: 27,
        nameMoveOverlap: false,
        nameTextStyle: { fontFamily: FONT, fontSize: 21, color: "#000", lineHeight: 20 },
        axisLine: { show: true, onZero: false, lineStyle: { color: "#000", width: 1 } },
        axisTick: { show: true, length: 5, customValues: xTicks, lineStyle: { color: "#000" } },
        axisLabel: {
          customValues: xTicks,
          formatter: (v: number) => minus(v),
          fontFamily: FONT,
          fontSize: 20,
          lineHeight: 18,
          color: "#000",
          margin: 7,
        },
        splitLine: { show: false },
      },
      yAxis: {
        type: "value",
        min: -15.2,
        max: 19.25,
        name: "Second Principal Component",
        nameLocation: "middle",
        nameGap: 44,
        nameRotate: 90,
        nameMoveOverlap: false,
        nameTextStyle: { fontFamily: FONT, fontSize: 21, color: "#000" },
        axisLine: { show: true, onZero: false, lineStyle: { color: "#000", width: 1 } },
        axisTick: { show: true, length: 5, customValues: yTicks, lineStyle: { color: "#000" } },
        axisLabel: {
          customValues: yTicks,
          formatter: (v: number) => minus(v),
          fontFamily: FONT,
          fontSize: 20,
          color: "#000",
          margin: 8,
        },
        splitLine: { show: false },
      },
      series: [
        {
          type: "scatter",
          name: "Eddy",
          data: eddyPoints,
          symbolSize: 4.6,
          silent: true,
          z: 1,
          itemStyle: { color: ORANGE_DOT, opacity: 0.75 },
        },
        {
          type: "scatter",
          name: "Non-eddy",
          data: nonEddyPoints,
          symbolSize: 5.6,
          silent: true,
          z: 2,
          itemStyle: { color: BLUE_DOT, opacity: 0.75 },
        },
        ...ellipseSeries,
      ],
    });

    return () => chart.dispose();
  }, []);

  return <div ref={ref} style={{ width: 854, height: 458, position: "absolute", left: 0, top: 0 }} />;
}
